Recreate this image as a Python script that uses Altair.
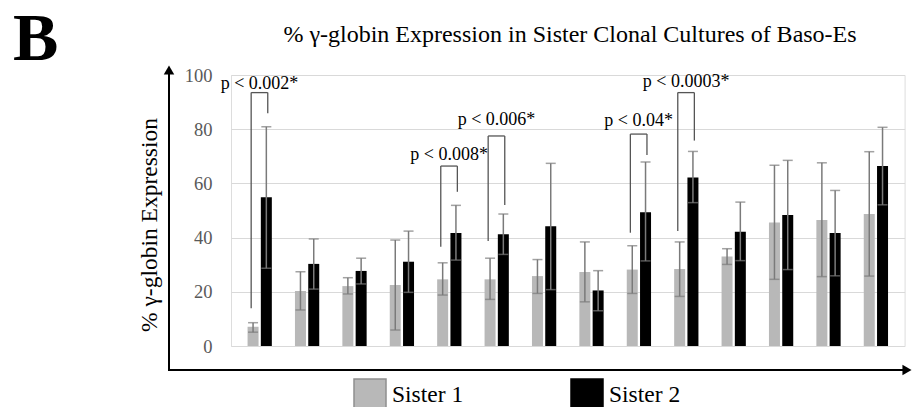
import altair as alt
import pandas as pd

# ---------------- data ----------------
groups = list(range(1, 15))
sisters = ["Sister 1", "Sister 2"]

sister1_mean = [7.1, 20.3, 22.1, 22.5, 24.6, 24.6, 25.8, 27.3, 28.2, 28.4, 33.0, 45.6, 46.5, 48.7]
sister1_lo = [5.1, 13.3, 19.2, 5.9, 18.8, 17.2, 19.4, 16.3, 19.4, 18.3, 30.1, 24.6, 25.6, 25.8]
sister1_hi = [8.6, 27.4, 25.2, 39.1, 30.7, 32.4, 31.9, 38.4, 37.0, 38.4, 35.9, 66.7, 67.6, 71.7]

sister2_mean = [54.9, 30.3, 27.7, 31.1, 41.7, 41.2, 44.2, 20.5, 49.4, 62.2, 42.2, 48.3, 41.7, 66.4]
sister2_lo = [28.7, 21.0, 22.9, 19.8, 31.7, 33.8, 20.8, 13.0, 31.4, 52.9, 31.5, 28.2, 25.9, 52.1]
sister2_hi = [80.9, 39.5, 32.4, 42.4, 51.9, 48.7, 67.4, 27.8, 67.9, 71.8, 53.1, 68.5, 57.4, 80.7]

sig_groups = [1, 5, 6, 9, 10]
sig_labels = ["p < 0.002*", "p < 0.008*", "p < 0.006*", "p < 0.04*", "p < 0.0003*"]
bracket_top = [93.5, 66.4, 77.5, 78.2, 93.5]
bracket_left_bottom = [13.9, 36.6, 38.7, 41.8, 42.4]
bracket_right_bottom = [85.9, 56.9, 52.0, 70.5, 75.8]
label_y = [96.7, 70.5, 83.4, 83.0, 97.5]

y_ticks = [0, 20, 40, 60, 80, 100]

title_text = "% γ-globin Expression in Sister Clonal Cultures of Baso-Es"
y_title_text = "% γ-globin Expression"
panel_letter = "B"

# ---------------- layout / style ----------------
W, H = 673.6, 271
FONT = "Liberation Serif"
OFF = 0.14  # half distance between paired bars, in group units

rows = []
for i, g in enumerate(groups):
    rows.append(dict(group=g, sister=sisters[0], mean=sister1_mean[i],
                     lo=sister1_lo[i], hi=sister1_hi[i], pos=g - OFF))
    rows.append(dict(group=g, sister=sisters[1], mean=sister2_mean[i],
                     lo=sister2_lo[i], hi=sister2_hi[i], pos=g + OFF))
df = pd.DataFrame(rows)

sig = pd.DataFrame(dict(group=sig_groups, label=sig_labels, top=bracket_top,
                        lb=bracket_left_bottom, rb=bracket_right_bottom, ly=label_y))
sig["xl"] = sig["group"] - 0.18
sig["xr"] = sig["group"] + 0.17
sig["xc"] = (sig["xl"] + sig["xr"]) / 2

xs = alt.Scale(domain=[0.5, 14.5], nice=False, zero=False)
ys = alt.Scale(domain=[0, 100], nice=False)

legend = alt.Legend(title=None, orient="none", legendX=122, legendY=303,
                    direction="horizontal", symbolType="square", symbolSize=1024,
                    symbolStrokeWidth=1.5, labelFont=FONT, labelFontSize=23.5,
                    labelColor="#000000", labelOffset=5, columnPadding=104)

bars = alt.Chart(df).mark_bar(width=11, strokeWidth=0).encode(
    x=alt.X("pos:Q", scale=xs, axis=None),
    y=alt.Y("mean:Q", scale=ys, title=None,
            axis=alt.Axis(values=y_ticks, domain=False, ticks=False, grid=True,
                          gridColor="#d9d9d9", gridWidth=1, labelFont=FONT,
                          labelFontSize=18.5, labelColor="#595959", labelPadding=19)),
    color=alt.Color("sister:N", scale=alt.Scale(domain=sisters, range=["#b8b8b8", "#000000"]),
                    legend=legend),
    stroke=alt.Stroke("sister:N", scale=alt.Scale(domain=sisters, range=["#8f8f8f", "#000000"]),
                      legend=legend),
)

err = alt.Chart(df).mark_rule(color="#7a7a7a", strokeWidth=1.5).encode(
    x=alt.X("pos:Q", scale=xs, axis=None),
    y=alt.Y("lo:Q", scale=ys, title=None),
    y2="hi:Q",
)
cap_lo = alt.Chart(df).mark_tick(color="#7a7a7a", thickness=1.5, size=10, orient="horizontal").encode(
    x=alt.X("pos:Q", scale=xs, axis=None),
    y=alt.Y("lo:Q", scale=ys, title=None),
)
cap_hi = alt.Chart(df).mark_tick(color="#7a7a7a", thickness=1.5, size=10, orient="horizontal").encode(
    x=alt.X("pos:Q", scale=xs, axis=None),
    y=alt.Y("hi:Q", scale=ys, title=None),
)

BR = "#555555"
br_left = alt.Chart(sig).mark_rule(color=BR, strokeWidth=1.3).encode(
    x=alt.X("xl:Q", scale=xs, axis=None), y=alt.Y("lb:Q", scale=ys, title=None), y2="top:Q")
br_right = alt.Chart(sig).mark_rule(color=BR, strokeWidth=1.3).encode(
    x=alt.X("xr:Q", scale=xs, axis=None), y=alt.Y("rb:Q", scale=ys, title=None), y2="top:Q")
br_top = alt.Chart(sig).mark_rule(color=BR, strokeWidth=1.3).encode(
    x=alt.X("xl:Q", scale=xs, axis=None), x2="xr:Q", y=alt.Y("top:Q", scale=ys, title=None))
br_text = alt.Chart(sig).mark_text(font=FONT, fontSize=18, color="#000000", baseline="middle").encode(
    x=alt.X("xc:Q", scale=xs, axis=None), y=alt.Y("ly:Q", scale=ys, title=None), text="label:N")

one = pd.DataFrame({"k": [0]})
axis_v = alt.Chart(one).mark_rule(color="#000000", strokeWidth=2).encode(
    x=alt.value(-62), y=alt.value(-4), y2=alt.value(295))
axis_h = alt.Chart(one).mark_rule(color="#000000", strokeWidth=2).encode(
    x=alt.value(-63), x2=alt.value(672), y=alt.value(295))
arrow_up = alt.Chart(one).mark_point(shape="triangle-up", filled=True, color="#000000",
                                     size=110, opacity=1).encode(
    x=alt.value(-62), y=alt.value(-5))
arrow_right = alt.Chart(one).mark_point(shape="triangle-right", filled=True, color="#000000",
                                        size=110, opacity=1).encode(
    x=alt.value(676), y=alt.value(295))

title_df = pd.DataFrame({"t": [title_text]})
title_mark = alt.Chart(title_df).mark_text(font=FONT, fontSize=24, color="#000000",
                                           baseline="middle", align="center").encode(
    text="t:N", x=alt.value(339), y=alt.value(-40))
ytitle_df = pd.DataFrame({"t": [y_title_text]})
ytitle_mark = alt.Chart(ytitle_df).mark_text(font=FONT, fontSize=23.5, color="#000000",
                                             baseline="middle", align="center", angle=270).encode(
    text="t:N", x=alt.value(-81), y=alt.value(150))
letter_df = pd.DataFrame({"t": [panel_letter]})
letter_mark = alt.Chart(letter_df).mark_text(font=FONT, fontSize=68, fontWeight="bold",
                                             color="#000000", baseline="alphabetic",
                                             align="left").encode(
    text="t:N", x=alt.value(-218), y=alt.value(-15))

chart = alt.layer(
    bars, err, cap_lo, cap_hi, br_left, br_right, br_top, br_text,
    axis_v, axis_h, arrow_up, arrow_right, title_mark, ytitle_mark, letter_mark
).properties(
    width=W, height=H,
    autosize=alt.AutoSizeParams(type="none"),
    padding={"left": 231, "top": 75, "right": 10.4, "bottom": 61},
).configure_view(stroke=None).configure(background="#ffffff")

chart.save("out.html", embed_options={"renderer": "svg", "actions": False})
